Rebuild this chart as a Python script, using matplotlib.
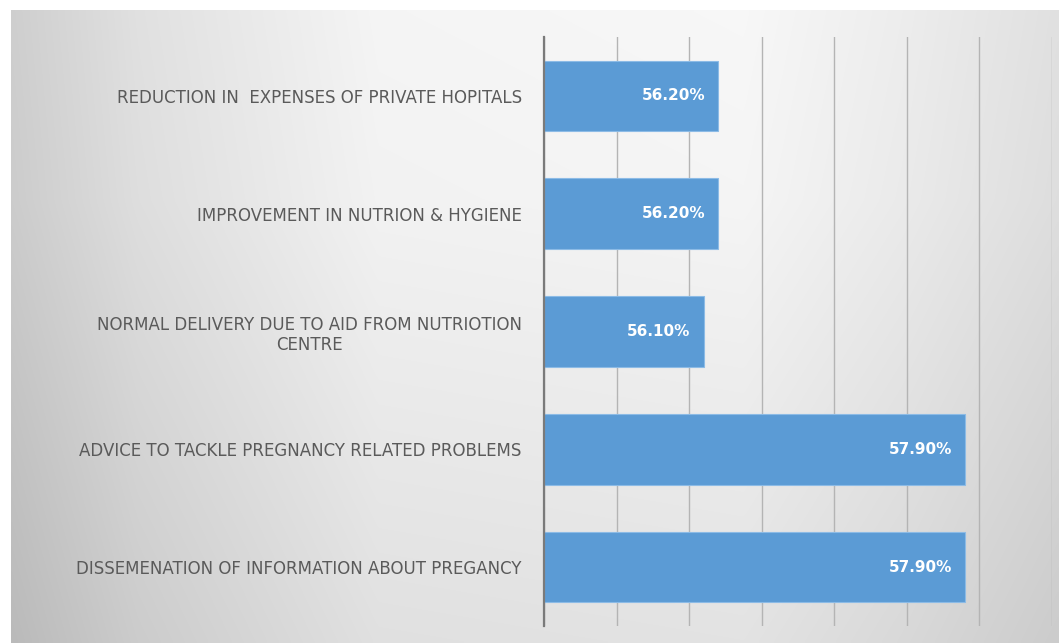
import numpy as np
import matplotlib
matplotlib.use("Agg")
import matplotlib.pyplot as plt

# Survey responses, listed top to bottom
categories = [
    "REDUCTION IN  EXPENSES OF PRIVATE HOPITALS",
    "IMPROVEMENT IN NUTRION & HYGIENE",
    "NORMAL DELIVERY DUE TO AID FROM NUTRIOTION\nCENTRE",
    "ADVICE TO TACKLE PREGNANCY RELATED PROBLEMS",
    "DISSEMENATION OF INFORMATION ABOUT PREGANCY",
]
values = [56.20, 56.20, 56.10, 57.90, 57.90]
value_labels = ["56.20%", "56.20%", "56.10%", "57.90%", "57.90%"]
x_min, x_max, x_step = 55.0, 58.5, 0.5

W, H, DPI = 1059, 643, 100
fig = plt.figure(figsize=(W / DPI, H / DPI), dpi=DPI)
fig.patch.set_facecolor("white")

# Soft grey panel behind the chart: darker at the sides and bottom
bg = fig.add_axes([11 / W, 0, 1 - 11 / W, (H - 10) / H], zorder=0)
ny, nx = 200, 400
yy, xx = np.mgrid[0:1:ny * 1j, 0:1:nx * 1j]
horiz = np.interp(xx, [0.0, 0.12, 0.35, 0.7, 0.85, 1.0],
                  [0.80, 0.87, 0.95, 0.96, 0.92, 0.87])
vert = np.interp(yy, [0.0, 0.3, 1.0], [0.01, 0.0, -0.07])
shade = np.clip(horiz + vert, 0, 1)
bg.imshow(np.dstack([shade, shade, shade]), aspect="auto",
          extent=[0, 1, 1, 0], interpolation="bilinear")
bg.set_axis_off()

ax = fig.add_axes([544 / W, (H - 626) / H, 508 / W, (626 - 37) / H], zorder=1)
ax.set_facecolor("none")

y = np.arange(len(categories))
ax.barh(y, np.array(values) - x_min, left=x_min, height=0.6,
        color="#5b9bd5", edgecolor="#8cbbe6", linewidth=0.8, zorder=3)

for yi, v, lab in zip(y, values, value_labels):
    ax.annotate(lab, xy=(v, yi), xytext=(-13, 0), textcoords="offset pixels",
                ha="right", va="center", color="white", fontsize=11,
                fontweight="bold", zorder=4)

ax.set_xlim(x_min, x_max)
ax.set_ylim(len(categories) - 0.5, -0.5)
ax.set_xticks(np.arange(x_min, x_max + 1e-9, x_step))
ax.xaxis.grid(True, color="#b4b4b4", linewidth=1.0, zorder=1)
ax.tick_params(axis="x", length=0, labelbottom=False)
ax.set_yticks(y)
ax.set_yticklabels(categories, fontsize=12, color="#5a5a5a",
                   multialignment="center")
ax.tick_params(axis="y", length=0, pad=16)

for s in ["top", "right", "bottom"]:
    ax.spines[s].set_visible(False)
ax.spines["left"].set_color("#7a7a7a")
ax.spines["left"].set_linewidth(1.6)
ax.spines["left"].set_zorder(5)

fig.savefig("out.png", dpi=DPI)
